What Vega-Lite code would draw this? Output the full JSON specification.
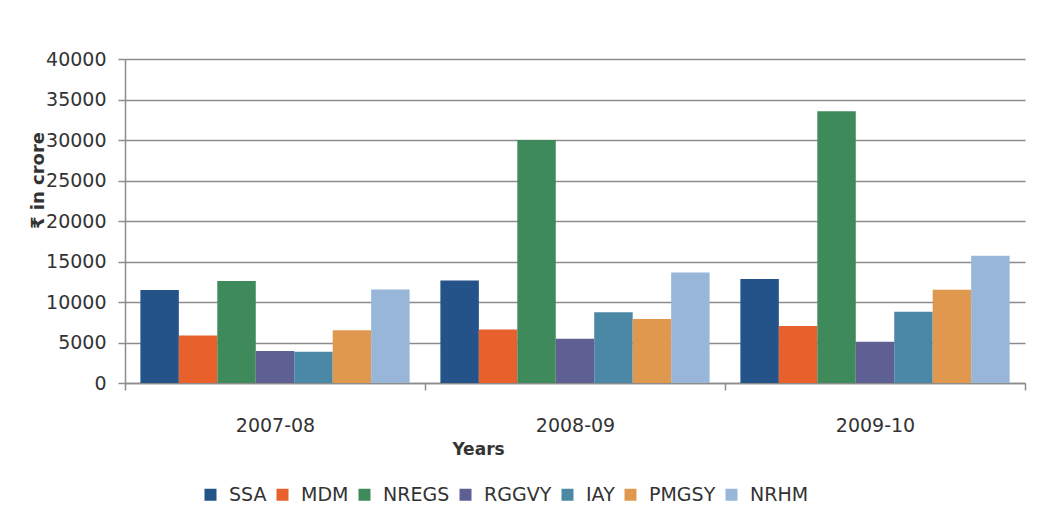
{
  "$schema": "https://vega.github.io/schema/vega-lite/v6.json",
  "width": 900,
  "height": 324,
  "autosize": {"type": "none"},
  "padding": {"left": 125, "top": 59, "right": 34, "bottom": 145},
  "background": "white",
  "data": {
    "values": [
      {"year": "2007-08", "scheme": "SSA", "value": 11480},
      {"year": "2007-08", "scheme": "MDM", "value": 5850},
      {"year": "2007-08", "scheme": "NREGS", "value": 12600},
      {"year": "2007-08", "scheme": "RGGVY", "value": 3950},
      {"year": "2007-08", "scheme": "IAY", "value": 3850},
      {"year": "2007-08", "scheme": "PMGSY", "value": 6500},
      {"year": "2007-08", "scheme": "NRHM", "value": 11550},
      {"year": "2008-09", "scheme": "SSA", "value": 12650},
      {"year": "2008-09", "scheme": "MDM", "value": 6600},
      {"year": "2008-09", "scheme": "NREGS", "value": 30000},
      {"year": "2008-09", "scheme": "RGGVY", "value": 5450},
      {"year": "2008-09", "scheme": "IAY", "value": 8750},
      {"year": "2008-09", "scheme": "PMGSY", "value": 7900},
      {"year": "2008-09", "scheme": "NRHM", "value": 13650},
      {"year": "2009-10", "scheme": "SSA", "value": 12850},
      {"year": "2009-10", "scheme": "MDM", "value": 7050},
      {"year": "2009-10", "scheme": "NREGS", "value": 33550},
      {"year": "2009-10", "scheme": "RGGVY", "value": 5100},
      {"year": "2009-10", "scheme": "IAY", "value": 8800},
      {"year": "2009-10", "scheme": "PMGSY", "value": 11500},
      {"year": "2009-10", "scheme": "NRHM", "value": 15700}
    ]
  },
  "mark": {"type": "bar"},
  "encoding": {
    "x": {
      "field": "year",
      "type": "nominal",
      "scale": {"paddingInner": 0, "paddingOuter": 0},
      "axis": {
        "title": "Years",
        "labelAngle": 0,
        "labelFontSize": 19,
        "labelPadding": 26,
        "labelColor": "#333333",
        "tickBand": "extent",
        "ticks": true,
        "tickSize": 7,
        "tickColor": "#8c8c8c",
        "tickWidth": 1.5,
        "domainColor": "#8c8c8c",
        "domainWidth": 1.5,
        "grid": false,
        "titleFontSize": 17,
        "titleFontWeight": "bold",
        "titleColor": "#333333",
        "titleX": 353,
        "titleY": 66,
        "titleBaseline": "middle"
      }
    },
    "xOffset": {
      "field": "scheme",
      "sort": ["SSA", "MDM", "NREGS", "RGGVY", "IAY", "PMGSY", "NRHM"],
      "scale": {"paddingInner": 0, "paddingOuter": 0.4}
    },
    "y": {
      "field": "value",
      "type": "quantitative",
      "scale": {"domain": [0, 40000]},
      "axis": {
        "title": "₹ in crore",
        "values": [0, 5000, 10000, 15000, 20000, 25000, 30000, 35000, 40000],
        "format": "d",
        "labelFontSize": 19,
        "labelColor": "#333333",
        "labelPadding": 12,
        "tickSize": 7,
        "tickColor": "#8c8c8c",
        "tickWidth": 1.5,
        "domainColor": "#8c8c8c",
        "domainWidth": 1.5,
        "grid": true,
        "gridColor": "#8c8c8c",
        "gridWidth": 1.5,
        "titleFontSize": 18,
        "titleFontWeight": "bold",
        "titleColor": "#333333",
        "titleX": -87,
        "titleY": 121,
        "titleAngle": 270,
        "titleAlign": "center",
        "titleBaseline": "middle"
      }
    },
    "color": {
      "field": "scheme",
      "type": "nominal",
      "sort": ["SSA", "MDM", "NREGS", "RGGVY", "IAY", "PMGSY", "NRHM"],
      "scale": {
        "domain": ["SSA", "MDM", "NREGS", "RGGVY", "IAY", "PMGSY", "NRHM"],
        "range": ["#24538a", "#e8602c", "#3e8a5a", "#5e5f92", "#4a88a6", "#e0984e", "#97b6d8"]
      },
      "legend": {
        "title": null,
        "orient": "none",
        "direction": "horizontal",
        "columns": 7,
        "legendX": 76,
        "legendY": 426,
        "symbolType": "square",
        "symbolSize": 144,
        "symbolStrokeWidth": 0,
        "labelFontSize": 19,
        "labelColor": "#333333",
        "labelOffset": 9,
        "columnPadding": 6
      }
    }
  },
  "config": {
    "font": "DejaVu Sans",
    "view": {"stroke": null}
  }
}
